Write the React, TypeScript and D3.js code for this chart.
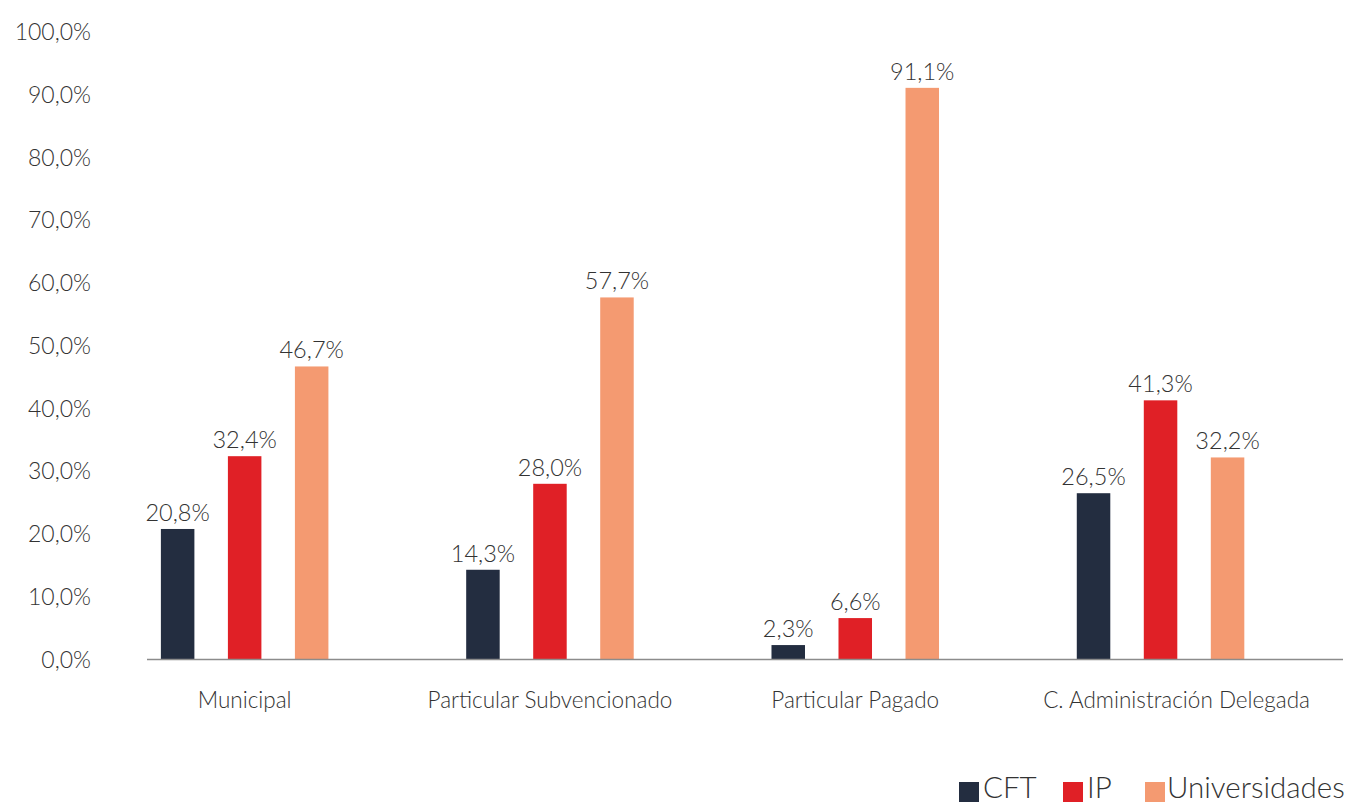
import { useMemo } from 'react';
import * as d3 from 'd3';

const WIDTH = 1346;
const HEIGHT = 805;
const FONT = 'Lato, "Open Sans", sans-serif';

const categories = ['Municipal', 'Particular Subvencionado', 'Particular Pagado', 'C. Administración Delegada'];
const seriesNames = ['CFT', 'IP', 'Universidades'];
const seriesColors = ['#232d40', '#e02026', '#f49a71'];
const cftValues = [20.8, 14.3, 2.3, 26.5];
const ipValues = [32.4, 28.0, 6.6, 41.3];
const uniValues = [46.7, 57.7, 91.1, 32.2];
const yTicks = [0, 10, 20, 30, 40, 50, 60, 70, 80, 90, 100];

const fmt = (v: number) => v.toFixed(1).replace('.', ',') + '%';

export default function App() {
  const { x, xInner, y } = useMemo(() => {
    const x = d3.scaleBand<string>().domain(categories).range([92, 1313.2]).padding(0);
    const xInner = d3
      .scaleBand<string>()
      .domain(seriesNames)
      .range([0, x.bandwidth()])
      .paddingInner(0.5)
      .paddingOuter(1.028);
    const y = d3.scaleLinear().domain([0, 100]).range([659.5, 32]);
    return { x, xInner, y };
  }, []);

  const series = [cftValues, ipValues, uniValues];

  return (
    <svg
      width={WIDTH}
      height={HEIGHT}
      viewBox={`0 0 ${WIDTH} ${HEIGHT}`}
      style={{ position: 'absolute', left: 0, top: 0, background: '#fff' }}
      fontFamily={FONT}
    >
      {/* y axis labels */}
      {yTicks.map((t) => (
        <text
          key={t}
          x={91}
          y={y(t)}
          dy="0.35em"
          textAnchor="end"
          fontSize={23}
          fontWeight={300}
          fill="#333"
        >
          {fmt(t)}
        </text>
      ))}

      {/* bars + value labels */}
      {categories.map((c, ci) => (
        <g key={c} transform={`translate(${x(c)},0)`}>
          {seriesNames.map((s, si) => {
            const v = series[si][ci];
            const bx = xInner(s) as number;
            return (
              <g key={s}>
                <rect
                  x={bx}
                  y={y(v)}
                  width={xInner.bandwidth()}
                  height={y(0) - y(v)}
                  fill={seriesColors[si]}
                />
                <text
                  x={bx + xInner.bandwidth() / 2}
                  y={y(v) - 8}
                  textAnchor="middle"
                  fontSize={23.5}
                  fontWeight={300}
                  fill="#333"
                >
                  {fmt(v)}
                </text>
              </g>
            );
          })}
          {/* last label sits a bit right of its group in the original */}
          <text
            x={x.bandwidth() / 2 + (ci === categories.length - 1 ? 16 : 0)}
            y={708}
            textAnchor="middle"
            fontSize={22.5}
            fontWeight={300}
            fill="#333"
          >
            {c}
          </text>
        </g>
      ))}

      {/* baseline */}
      <line x1={147} x2={1343} y1={y(0)} y2={y(0)} stroke="#8c8c8c" strokeWidth={1.5} />

      {/* legend */}
      {[
        { x: 959, tx: 983 },
        { x: 1063, tx: 1087 },
        { x: 1145, tx: 1167 },
      ].map((p, i) => (
        <g key={seriesNames[i]}>
          <rect x={p.x} y={782} width={20} height={20} fill={seriesColors[i]} />
          <text x={p.tx} y={798} fontSize={29.5} fontWeight={300} fill="#333">
            {seriesNames[i]}
          </text>
        </g>
      ))}
    </svg>
  );
}
